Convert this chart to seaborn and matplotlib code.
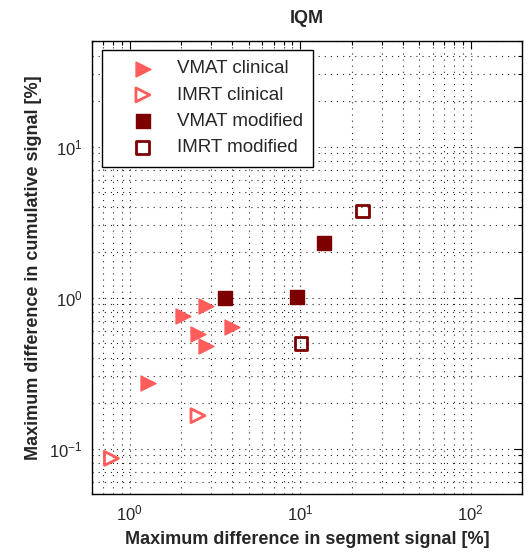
import matplotlib
matplotlib.use("Agg")
import matplotlib.pyplot as plt
import seaborn as sns
import numpy as np

# ---- data ----
vmat_clin_x = [2.05, 2.80, 2.51, 2.80, 3.98, 1.27]
vmat_clin_y = [0.76, 0.88, 0.575, 0.48, 0.64, 0.27]
imrt_clin_x = [2.51, 0.78]
imrt_clin_y = [0.165, 0.086]
vmat_mod_x = [3.62, 9.6, 13.7]
vmat_mod_y = [1.0, 1.01, 2.3]
imrt_mod_x = [23.2, 10.1]
imrt_mod_y = [3.74, 0.494]

title = "IQM"
xlabel = "Maximum difference in segment signal [%]"
ylabel = "Maximum difference in cumulative signal [%]"

light = "#ff5c5c"
dark = "#7d0000"

sns.set_style("white")
plt.rcParams["font.family"] = ["Liberation Sans", "DejaVu Sans"]
plt.rcParams["mathtext.fontset"] = "custom"
plt.rcParams["mathtext.rm"] = "Liberation Sans"
plt.rcParams["mathtext.it"] = "Liberation Sans:italic"
plt.rcParams["mathtext.bf"] = "Liberation Sans:bold"
plt.rcParams["mathtext.default"] = "regular"

fig = plt.figure(figsize=(5.29, 5.55), dpi=100)
ax = fig.add_axes([92/529, 1-494/555, (522-92)/529, (494-41)/555])

sns.scatterplot(x=vmat_clin_x, y=vmat_clin_y, marker=">", s=115, color=light,
                edgecolor=light, linewidth=1, ax=ax, label="VMAT clinical", zorder=3)
sns.scatterplot(x=imrt_clin_x, y=imrt_clin_y, marker=">", s=100, color=light,
                facecolor="none", edgecolor=light, linewidth=2, ax=ax,
                label="IMRT clinical", zorder=3)
sns.scatterplot(x=vmat_mod_x, y=vmat_mod_y, marker="s", s=100, color=dark,
                edgecolor=dark, linewidth=1, ax=ax, label="VMAT modified", zorder=4)
sns.scatterplot(x=imrt_mod_x, y=imrt_mod_y, marker="s", s=85, color=dark,
                facecolor="none", edgecolor=dark, linewidth=2, ax=ax,
                label="IMRT modified", zorder=4)

ax.set_xscale("log")
ax.set_yscale("log")
ax.set_xlim(0.6, 200)
ax.set_ylim(0.05, 50)

ax.grid(True, which="both", color="#222222", linestyle=(0, (1, 4.5)), linewidth=0.8)
ax.set_axisbelow(True)

ax.tick_params(which="both", direction="in", top=True, right=True, color="black")
ax.tick_params(which="major", length=6, width=0.8, labelsize=12, pad=7)
ax.tick_params(which="minor", length=3, width=0.8)
for sp in ax.spines.values():
    sp.set_color("black")
    sp.set_linewidth(1.0)

ax.set_title(title, fontsize=13, fontweight="bold", pad=13)
ax.set_xlabel(xlabel, fontsize=13, fontweight="bold", labelpad=5)
ax.set_ylabel(ylabel, fontsize=13, fontweight="bold", labelpad=5)

leg = ax.legend(loc="upper left", bbox_to_anchor=(0.023, 0.98), borderaxespad=0,
                fontsize=13.5, frameon=True, fancybox=False, framealpha=1,
                edgecolor="black", borderpad=0.55, handlelength=3.27,
                handletextpad=0.18, labelspacing=0.49)
leg.get_frame().set_linewidth(1.0)

fig.savefig("out.png", dpi=100, facecolor="white")
